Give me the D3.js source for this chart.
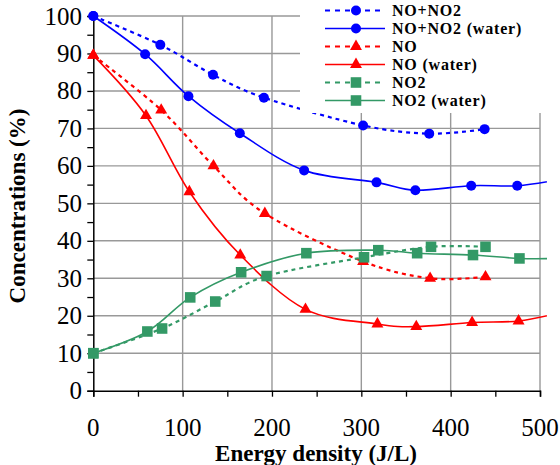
<!DOCTYPE html>
<html>
  <head>
    <meta charset="utf-8">
    <title>Concentrations vs energy density</title>
    <script type="text/javascript" src="https://cdn.jsdelivr.net/npm/d3@7"></script>
    <style>
    body {
      margin: 0;
      background: #fff;
    }
    .grid line {
      stroke: #999;
      stroke-width: 1.4px;
    }
    </style>
  </head>
  <body>
    <div id="chart"></div>
    <script type="text/javascript">

      // data
      var totX = [0, 75, 134, 191, 302, 376, 438];
      var totY = [100, 92.3, 84.3, 78.2, 70.8, 68.6, 69.8];
      var totWaterX = [0, 58, 106.5, 164, 236, 317, 360.5, 423, 474.5, 520];
      var totWaterY = [100, 89.8, 78.6, 68.7, 58.8, 55.6, 53.5, 54.7, 54.7, 56.3];
      var noX = [0, 76, 134.5, 192, 302, 377, 439];
      var noY = [89.5, 74.9, 60.0, 47.3, 34.5, 30.0, 30.4];
      var noWaterX = [0, 59, 107.5, 164.5, 237.5, 318, 361.5, 424, 476, 520];
      var noWaterY = [89.5, 73.4, 53.1, 36.2, 21.7, 17.8, 17.1, 18.2, 18.6, 20.7];
      var no2X = [0, 77, 136.5, 194, 303, 378, 439];
      var no2Y = [10, 16.6, 23.8, 30.6, 35.6, 38.4, 38.4];
      var no2WaterX = [0, 60.5, 108.5, 165.5, 238.5, 319, 362.5, 425, 477, 520];
      var no2WaterY = [10, 15.8, 24.9, 31.6, 36.7, 37.5, 36.7, 36.2, 35.3, 35.3];

      var xTicks = [0, 100, 200, 300, 400, 500];
      var yTicks = [0, 10, 20, 30, 40, 50, 60, 70, 80, 90, 100];

      var blue = '#0000ff', red = '#ff0000', green = '#339966';
      var serif = '"Liberation Serif", "Times New Roman", Times, serif';

      var series = [
        {name: 'NO+NO2', xs: totX, ys: totY, color: blue, shape: 'circle', dash: true},
        {name: 'NO+NO2 (water)', xs: totWaterX, ys: totWaterY, color: blue, shape: 'circle', dash: false},
        {name: 'NO', xs: noX, ys: noY, color: red, shape: 'triangle', dash: true},
        {name: 'NO (water)', xs: noWaterX, ys: noWaterY, color: red, shape: 'triangle', dash: false},
        {name: 'NO2', xs: no2X, ys: no2Y, color: green, shape: 'square', dash: true},
        {name: 'NO2 (water)', xs: no2WaterX, ys: no2WaterY, color: green, shape: 'square', dash: false}
      ];

      var width = 560, height = 465;

      var x = d3.scaleLinear().domain([0, 500]).range([93.3, 540]);
      var y = d3.scaleLinear().domain([0, 100]).range([390.7, 16]);

      var svg = d3.select('#chart').append('svg')
        .attr('width', width)
        .attr('height', height)
        .attr('font-family', serif);

      svg.append('defs').append('clipPath')
        .attr('id', 'clip')
        .append('rect')
        .attr('x', 0).attr('y', 0)
        .attr('width', 547).attr('height', 420);

      // grid
      var grid = svg.append('g').attr('class', 'grid');
      grid.selectAll('.hl')
        .data(yTicks.slice(1))
        .enter().append('line')
        .attr('x1', x(0)).attr('x2', x(500))
        .attr('y1', y).attr('y2', y);
      grid.selectAll('.vl')
        .data(xTicks.slice(1))
        .enter().append('line')
        .attr('x1', x).attr('x2', x)
        .attr('y1', y(0)).attr('y2', y(100));

      // axes
      var xAxis = svg.append('g')
        .attr('transform', 'translate(0,' + y(0) + ')')
        .call(d3.axisBottom(x).tickValues(d3.range(0, 501, 50)).tickSize(6).tickFormat(''));
      var yAxis = svg.append('g')
        .attr('transform', 'translate(' + x(0) + ',0)')
        .call(d3.axisLeft(y).tickValues(d3.range(0, 101, 5)).tickSize(6).tickFormat(''));
      [xAxis, yAxis].forEach(function(a) {
        a.select('.domain').attr('stroke', '#000').attr('stroke-width', 1.5);
        a.selectAll('.tick line').attr('stroke', '#000').attr('stroke-width', 1.3);
      });

      svg.selectAll('.xlab')
        .data(xTicks)
        .enter().append('text')
        .style('font-family', serif)
        .style('font-size', '25px')
        .attr('x', x)
        .attr('y', 436)
        .attr('text-anchor', 'middle')
        .text(function(d) { return d; });

      svg.selectAll('.ylab')
        .data(yTicks)
        .enter().append('text')
        .style('font-family', serif)
        .style('font-size', '25px')
        .attr('x', 82)
        .attr('y', function(d) { return y(d); })
        .attr('dy', '0.34em')
        .attr('text-anchor', 'end')
        .text(function(d) { return d; });

      svg.append('text')
        .style('font-family', serif)
        .style('font-size', '23px')
        .style('font-weight', 'bold')
        .attr('x', 316)
        .attr('y', 461)
        .attr('text-anchor', 'middle')
        .text('Energy density (J/L)');

      svg.append('text')
        .style('font-family', serif)
        .style('font-size', '23px')
        .style('font-weight', 'bold')
        .attr('transform', 'translate(25,206) rotate(-90)')
        .attr('text-anchor', 'middle')
        .text('Concentrations (%)');

      // series
      var symbols = {
        circle: d3.symbol().type(d3.symbolCircle).size(Math.PI * 25),
        triangle: d3.symbol().type(d3.symbolTriangle).size(62),
        square: d3.symbol().type(d3.symbolSquare).size(112)
      };

      var line = d3.line()
        .x(function(d) { return x(d[0]); })
        .y(function(d) { return y(d[1]); })
        .curve(d3.curveCatmullRom.alpha(0));

      var plot = svg.append('g').attr('clip-path', 'url(#clip)');

      series.forEach(function(s) {
        var pts = s.xs.map(function(v, i) { return [v, s.ys[i]]; });
        var g = plot.append('g');
        g.append('path')
          .datum(pts)
          .attr('fill', 'none')
          .attr('stroke', s.color)
          .attr('stroke-width', s.dash ? 2.2 : 1.6)
          .attr('stroke-dasharray', s.dash ? '4,4' : null)
          .attr('d', line);
        g.selectAll('.m')
          .data(pts)
          .enter().append('path')
          .attr('transform', function(d) { return 'translate(' + x(d[0]) + ',' + y(d[1]) + ')'; })
          .attr('fill', s.color)
          .attr('d', symbols[s.shape]);
      });

      // legend
      var legend = svg.append('g');
      legend.append('rect')
        .attr('x', 300).attr('y', 0)
        .attr('width', 260).attr('height', 113)
        .attr('fill', '#fff');

      var item = legend.selectAll('.item')
        .data(series)
        .enter().append('g')
        .attr('transform', function(d, i) { return 'translate(0,' + (10.5 + i * 18) + ')'; });
      item.append('line')
        .attr('x1', 325).attr('x2', 385)
        .attr('stroke', function(d) { return d.color; })
        .attr('stroke-width', function(d) { return d.dash ? 2.2 : 1.6; })
        .attr('stroke-dasharray', function(d) { return d.dash ? '5,5' : null; });
      item.append('path')
        .attr('transform', 'translate(356,0)')
        .attr('fill', function(d) { return d.color; })
        .attr('d', function(d) { return symbols[d.shape](); });
      item.append('text')
        .style('font-family', serif)
        .style('font-size', '16px')
        .style('font-weight', 'bold')
        .style('letter-spacing', '0.8px')
        .attr('x', 392)
        .attr('dy', '0.36em')
        .text(function(d) { return d.name; });
    </script>
  </body>
</html>
